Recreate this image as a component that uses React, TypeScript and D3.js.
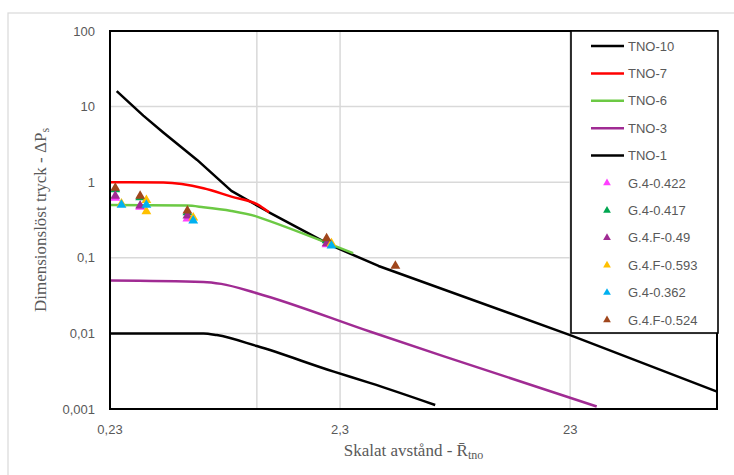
import React from "react";
import * as d3 from "d3";

const W = 734;
const H = 475;

const xTicks = [0.23, 2.3, 23];
const xTickLabels = ["0,23", "2,3", "23"];
const xExtraGrid = [1];
const yTicks = [100, 10, 1, 0.1, 0.01, 0.001];
const yTickLabels = ["100", "10", "1", "0,1", "0,01", "0,001"];

const tno10X = [0.246, 0.321, 0.392, 0.55, 0.775, 1.13, 2.08, 3.38, 23, 100];
const tno10Y = [16, 7.6, 4.55, 1.97, 0.767, 0.4, 0.148, 0.078, 0.0095, 0.0017];
const tno7X = [0.23, 0.392, 0.586, 0.775, 1.0, 1.13];
const tno7Y = [1, 0.99, 0.833, 0.645, 0.512, 0.4];
const tno6X = [0.23, 0.497, 0.586, 0.775, 1.0, 1.13, 2.62];
const tno6Y = [0.5, 0.49, 0.467, 0.417, 0.351, 0.308, 0.115];
const tno3X = [0.23, 0.586, 0.7, 1.0, 3.12, 6.46, 30];
const tno3Y = [0.05, 0.048, 0.0452, 0.034, 0.0105, 0.005, 0.00108];
const tno1X = [0.23, 0.586, 0.67, 1.0, 2.16, 3.12, 5.96];
const tno1Y = [0.01, 0.01, 0.0095, 0.0068, 0.00312, 0.0022, 0.00113];

const lineNames = ["TNO-10", "TNO-7", "TNO-6", "TNO-3", "TNO-1"];
const lineColors = ["#000000", "#ff0000", "#6cc944", "#a02b93", "#000000"];
const lineXs = [tno10X, tno7X, tno6X, tno3X, tno1X];
const lineYs = [tno10Y, tno7Y, tno6Y, tno3Y, tno1Y];

const g422X = [0.2425, 0.311, 0.499, 2.01];
const g422Y = [0.62, 0.47, 0.33, 0.15];
const g417X = [0.2425, 0.311, 0.499, 2.01];
const g417Y = [0.8, 0.63, 0.4, 0.17];
const gF49X = [0.2425, 0.311, 0.499, 2.01];
const gF49Y = [0.66, 0.49, 0.36, 0.155];
const gF593X = [0.258, 0.331, 0.331, 0.529, 2.11];
const gF593Y = [0.52, 0.58, 0.41, 0.34, 0.155];
const g362X = [0.258, 0.331, 0.529, 2.11];
const g362Y = [0.5, 0.5, 0.31, 0.145];
const gF524X = [0.2425, 0.311, 0.499, 2.01, 4.0];
const gF524Y = [0.84, 0.66, 0.42, 0.18, 0.078];

const ptNames = ["G.4-0.422", "G.4-0.417", "G.4.F-0.49", "G.4.F-0.593", "G.4-0.362", "G.4.F-0.524"];
const ptColors = ["#ff3fff", "#00a650", "#a02b93", "#ffc000", "#00b0f0", "#a0461c"];
const ptXs = [g422X, g417X, gF49X, gF593X, g362X, gF524X];
const ptYs = [g422Y, g417Y, gF49Y, gF593Y, g362Y, gF524Y];

export default function App() {
  const left = 110, right = 717, top = 31, bottom = 409;
  const x = d3.scaleLog().domain([0.23, 100]).range([left, right]);
  const y = d3.scaleLog().domain([0.001, 100]).range([bottom, top]);
  const mkLine = (i: number) =>
    d3
      .line<[number, number]>()
      .x((d) => x(d[0]))
      .y((d) => y(d[1]))
      .curve(i === 0 ? d3.curveLinear : d3.curveMonotoneX);
  const tri = d3.symbol().type(d3.symbolTriangle).size(42);
  const triLeg = d3.symbol().type(d3.symbolTriangle).size(26);
  const grid = "#d9d9d9";
  const txt = "#595959";
  const sans = "'Liberation Sans', Arial, sans-serif";
  const serif = "'Liberation Serif', 'Times New Roman', serif";

  const legX = 571, legY = 31, legW = 147, legH = 302;
  const legStart = 46, legStep = 27.4;

  return (
    <svg width={W} height={H} style={{ position: "absolute", left: 0, top: 0, background: "#fff" }}>
      <rect x={8} y={13} width={760} height={480} fill="#fff" stroke="#d9d9d9" strokeWidth={1.2} />
      {yTicks.slice(1, -1).map((t) => (
        <line key={"gy" + t} x1={left} x2={right} y1={y(t)} y2={y(t)} stroke={grid} strokeWidth={1.5} />
      ))}
      {[...xExtraGrid, ...xTicks.slice(1)].map((t) => (
        <line key={"gx" + t} x1={x(t)} x2={x(t)} y1={top} y2={bottom} stroke={grid} strokeWidth={1.5} />
      ))}
      {lineNames.map((n, i) => (
        <path
          key={n}
          d={mkLine(i)(lineXs[i].map((v, j) => [v, lineYs[i][j]] as [number, number])) || ""}
          fill="none"
          stroke={lineColors[i]}
          strokeWidth={2.5}
          strokeLinejoin="round"
        />
      ))}
      {ptNames.map((n, i) =>
        ptXs[i].map((v, j) => (
          <path
            key={n + j}
            d={tri() || ""}
            transform={`translate(${x(v)},${y(ptYs[i][j])})`}
            fill={ptColors[i]}
          />
        ))
      )}
      <rect x={left} y={top} width={right - left} height={bottom - top} fill="none" stroke="#000" strokeWidth={2} />
      {yTicks.map((t, i) => (
        <text key={"yl" + t} x={95} y={y(t)} dy="0.35em" textAnchor="end" fontFamily={sans} fontSize={13} fill={txt}>
          {yTickLabels[i]}
        </text>
      ))}
      {xTicks.map((t, i) => (
        <text key={"xl" + t} x={x(t)} y={434} textAnchor="middle" fontFamily={sans} fontSize={13} fill={txt}>
          {xTickLabels[i]}
        </text>
      ))}
      <text x={(left + right) / 2} y={456} textAnchor="middle" fontFamily={serif} fontSize={17} fill={txt}>
        {"Skalat avstånd - R\u0304"}
        <tspan fontSize={12} dy={3}>tno</tspan>
      </text>
      <text
        transform={`translate(46,${(top + bottom) / 2}) rotate(-90)`}
        textAnchor="middle"
        fontFamily={serif}
        fontSize={17}
        fill={txt}
      >
        {"Dimensionslöst tryck - ΔP"}
        <tspan fontSize={12} dy={3}>s</tspan>
      </text>
      <rect x={legX} y={legY} width={legW} height={legH} fill="#fff" stroke="#000" strokeWidth={1.6} />
      {lineNames.map((n, i) => {
        const ly = legStart + i * legStep;
        return (
          <g key={"ll" + n}>
            <line x1={591} x2={624} y1={ly} y2={ly} stroke={lineColors[i]} strokeWidth={2.5} />
            <text x={628} y={ly} dy="0.35em" fontFamily={sans} fontSize={13} fill={txt}>
              {n}
            </text>
          </g>
        );
      })}
      {ptNames.map((n, i) => {
        const ly = legStart + (i + 5) * legStep;
        return (
          <g key={"lp" + n}>
            <path d={triLeg() || ""} transform={`translate(607,${ly})`} fill={ptColors[i]} />
            <text x={628} y={ly} dy="0.35em" fontFamily={sans} fontSize={13} fill={txt}>
              {n}
            </text>
          </g>
        );
      })}
    </svg>
  );
}
